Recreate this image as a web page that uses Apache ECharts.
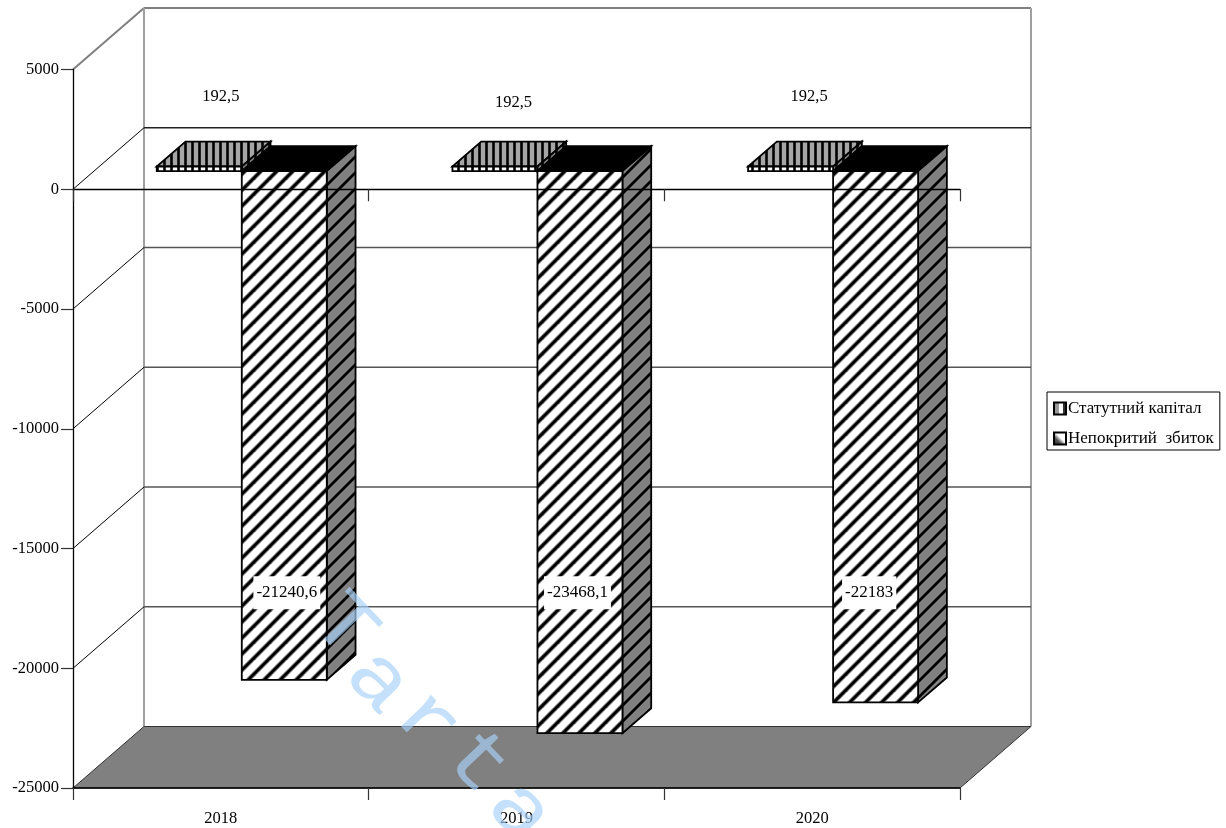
<!DOCTYPE html>
<html>
<head>
<meta charset="utf-8">
<style>html,body{margin:0;padding:0;background:#fff;overflow:hidden}#chart{width:1226px;height:828px}</style>
<script src="https://cdn.jsdelivr.net/npm/echarts@6/dist/echarts.min.js"></script>
</head>
<body>
<div id="chart"></div>
<script>
// Chart content
const years = ['2018', '2019', '2020'];
const capitalName = 'Статутний капітал';
const lossName = 'Непокритий  збиток';
const capital = [192.5, 192.5, 192.5];
const loss = [-21240.6, -23468.1, -22183];
const capitalLabels = ['192,5', '192,5', '192,5'];
const lossLabels = ['-21240,6', '-23468,1', '-22183'];
const gridValues = [5000, 0, -5000, -10000, -15000, -20000, -25000];
const overlayLetters = ['T', 'a', 'r', 't', 'a'];

// Oblique projection of the depth axis, in pixels
const DEPTH_X = 71, DEPTH_Y = -61.5;
const BAR_FRONT = 0.295, BAR_BACK = 0.70;
const BAR_BAND = 0.2875;
const FONT = '"Liberation Serif","Times New Roman",serif';

function hatch(size, bg, draw) {
  const c = document.createElement('canvas');
  c.width = c.height = size;
  const g = c.getContext('2d');
  g.fillStyle = bg;
  g.fillRect(0, 0, size, size);
  draw(g, size);
  return { image: c, repeat: 'repeat' };
}
// Soft-edged diagonal stripe: a wide grey pass under a narrower black one
const diagonal = (g, s) => {
  [['#888', 4.6], ['#000', 2.8]].forEach(([colour, width]) => {
    g.strokeStyle = colour;
    g.lineWidth = width;
    for (let k = -s; k <= 2 * s; k += s) {
      g.beginPath(); g.moveTo(k - 2, s + 2); g.lineTo(k + s + 2, -2); g.stroke();
    }
  });
};
const vertical = (g, s) => {
  g.strokeStyle = '#000';
  g.lineWidth = 2.6;
  g.beginPath(); g.moveTo(s / 2, 0); g.lineTo(s / 2, s); g.stroke();
};
const fill = {
  lossFront: hatch(16, '#fff', diagonal),
  lossSide: hatch(16, '#808080', diagonal),
  capFront: hatch(7, '#fff', vertical),
  capTop: hatch(7, '#a6a6a6', vertical),
  capSide: hatch(7, '#808080', vertical)
};

const poly = (points, f, z2) => ({
  type: 'polygon', z2: z2 || 1,
  shape: { points },
  style: { fill: f, stroke: '#000', lineWidth: 1.8, lineJoin: 'miter' }
});

// Draws a box with front, top and side faces between two values
function box(api, cat, v, side, colours) {
  const band = api.size([1, 0])[0];
  const w = band * BAR_BAND;
  const c0 = api.coord([cat, 0]);
  const c1 = api.coord([cat, v]);
  const fx = c0[0] + BAR_FRONT * DEPTH_X + (side < 0 ? -w : 0);
  const fy = BAR_FRONT * DEPTH_Y;
  const bx = (BAR_BACK - BAR_FRONT) * DEPTH_X;
  const by = (BAR_BACK - BAR_FRONT) * DEPTH_Y;
  const top = Math.min(c0[1], c1[1]) + fy;
  const bot = Math.max(c0[1], c1[1]) + fy;
  return [
    poly([[fx, top], [fx + bx, top + by], [fx + w + bx, top + by], [fx + w, top]], colours.top),
    poly([[fx + w, top], [fx + w + bx, top + by], [fx + w + bx, bot + by], [fx + w, bot]], colours.side),
    poly([[fx, top], [fx + w, top], [fx + w, bot], [fx, bot]], colours.front)
  ];
}

function label(x, y, text, boxed) {
  return {
    type: 'text', z2: 5, x, y,
    style: Object.assign({
      text, font: (boxed ? '17px ' : '16.5px ') + FONT, fill: '#000', align: 'center', verticalAlign: 'middle'
    }, boxed ? { backgroundColor: '#fff', padding: [8, 3, 8, 3] } : {})
  };
}

// Label placement relative to the category centre
const capitalLabelShift = [[0, 0], [-3, 6], [-3, 0]];
const lossLabelShift = [66, 61, 57];

const option = {
  animation: false,
  backgroundColor: '#fff',
  grid: { left: 73, right: 266, top: 69.5, height: 718.5 },
  legend: {
    left: 1047, top: 392, orient: 'vertical',
    padding: [8, 6, 3, 6], itemGap: 13, itemWidth: 12, itemHeight: 12,
    borderColor: '#000', borderWidth: 1, backgroundColor: '#fff',
    icon: 'rect', textStyle: { fontFamily: FONT, fontSize: 17, color: '#000', padding: [0, 0, 0, -3] },
    data: [
      { name: capitalName, itemStyle: { borderColor: '#000', borderWidth: 2, color: { type: 'linear', x: 0, y: 0, x2: 1, y2: 0, colorStops: [
        { offset: 0, color: '#999' }, { offset: .45, color: '#999' }, { offset: .45, color: '#fff' }, { offset: .7, color: '#fff' }, { offset: .7, color: '#333' }, { offset: 1, color: '#333' }] } } },
      { name: lossName, itemStyle: { borderColor: '#000', borderWidth: 2, color: { type: 'linear', x: 0, y: 1, x2: 1, y2: 0, colorStops: [
        { offset: 0, color: '#222' }, { offset: .35, color: '#555' }, { offset: .55, color: '#fff' }, { offset: 1, color: '#fff' }] } } }
    ]
  },
  xAxis: [
    {
      type: 'category', data: years, position: 'bottom', z: 6,
      axisLine: { onZero: false, lineStyle: { color: '#000', width: 1.5 } },
      axisTick: { show: true, length: 12, lineStyle: { color: '#333', width: 1.2 } },
      axisLabel: { margin: 22, color: '#000', fontFamily: FONT, fontSize: 16.5 }
    },
    {
      type: 'category', data: years, position: 'bottom', z: 6,
      axisLine: { onZero: true, lineStyle: { color: '#000', width: 1.3 } },
      axisTick: { show: true, length: 12, lineStyle: { color: '#333', width: 1.2 } },
      axisLabel: { show: false }
    }
  ],
  yAxis: {
    type: 'value', min: -25000, max: 5000, interval: 5000, z: 6,
    axisLine: { show: true, lineStyle: { color: '#000', width: 1.3 } },
    axisTick: { show: true, length: 12, lineStyle: { color: '#333', width: 1.2 } },
    axisLabel: { margin: 14, color: '#000', fontFamily: FONT, fontSize: 16.5, formatter: v => String(v) },
    splitLine: { show: false }
  },
  graphic: overlayLetters.map((ch, i) => ({
    type: 'text', z: 100, silent: true,
    x: [343, 378, 427, 477, 520][i], y: [627, 682, 722, 763, 813][i],
    rotation: -46.5 * Math.PI / 180,
    scaleX: 1.15,
    style: { text: ch, font: '82px "Liberation Mono",monospace', fill: 'rgba(168,209,249,0.67)', align: 'center', verticalAlign: 'middle' }
  })),
  series: [
    {
      // Back wall, side-wall diagonals and floor
      name: 'walls', type: 'custom', xAxisIndex: 0, z: 1, silent: true,
      data: gridValues.map(v => [0, v]),
      renderItem(params, api) {
        const v = api.value(1);
        const rect = params.coordSys;
        const p = api.coord([0, v]);
        const xL = rect.x, xR = rect.x + rect.width, y = p[1];
        const kids = [];
        if (v === gridValues[0]) {
          const g = { stroke: '#a0a0a0', lineWidth: 2 };
          kids.push({ type: 'line', shape: { x1: xL, y1: y, x2: xL + DEPTH_X, y2: y + DEPTH_Y }, style: { stroke: '#808080', lineWidth: 2 } });
          kids.push({ type: 'line', shape: { x1: xL + DEPTH_X, y1: y + DEPTH_Y, x2: xR + DEPTH_X, y2: y + DEPTH_Y }, style: { stroke: '#808080', lineWidth: 2 } });
          const b = api.coord([0, gridValues[gridValues.length - 1]])[1];
          kids.push({ type: 'line', shape: { x1: xL + DEPTH_X, y1: y + DEPTH_Y, x2: xL + DEPTH_X, y2: b + DEPTH_Y }, style: g });
          kids.push({ type: 'line', shape: { x1: xR + DEPTH_X, y1: y + DEPTH_Y, x2: xR + DEPTH_X, y2: b + DEPTH_Y }, style: g });
        } else if (v === gridValues[gridValues.length - 1]) {
          kids.push({
            type: 'polygon', z2: 2,
            shape: { points: [[xL, y], [xL + DEPTH_X, y + DEPTH_Y], [xR + DEPTH_X, y + DEPTH_Y], [xR, y]] },
            style: { fill: '#808080', stroke: '#333', lineWidth: 1 }
          });
        } else {
          kids.push({ type: 'line', shape: { x1: xL, y1: y, x2: xL + DEPTH_X, y2: y + DEPTH_Y }, style: { stroke: '#000', lineWidth: 1 } });
          kids.push({ type: 'line', shape: { x1: xL + DEPTH_X, y1: y + DEPTH_Y, x2: xR + DEPTH_X, y2: y + DEPTH_Y }, style: { stroke: v === 0 ? '#222' : '#555', lineWidth: 1.5 } });
        }
        return { type: 'group', children: kids };
      }
    },
    {
      name: capitalName, type: 'custom', xAxisIndex: 0, z: 2,
      data: capital.map((v, i) => [i, v]),
      renderItem(params, api) {
        const i = api.value(0), v = api.value(1);
        const kids = box(api, i, v, -1, { top: fill.capTop, side: fill.capSide, front: fill.capFront });
        const p = api.coord([i, v]);
        const s = capitalLabelShift[i];
        kids.push(label(p[0] + s[0], p[1] - 88 + s[1], capitalLabels[i]));
        return { type: 'group', children: kids };
      }
    },
    {
      name: lossName, type: 'custom', xAxisIndex: 0, z: 3,
      data: loss.map((v, i) => [i, v]),
      renderItem(params, api) {
        const i = api.value(0), v = api.value(1);
        const kids = box(api, i, v, 1, { top: '#000', side: fill.lossSide, front: fill.lossFront });
        const p = api.coord([i, -16850]);
        kids.push(label(p[0] + lossLabelShift[i], p[1], lossLabels[i], true));
        return { type: 'group', children: kids };
      }
    }
  ]
};
echarts.init(document.getElementById('chart')).setOption(option);
</script>
</body>
</html>
